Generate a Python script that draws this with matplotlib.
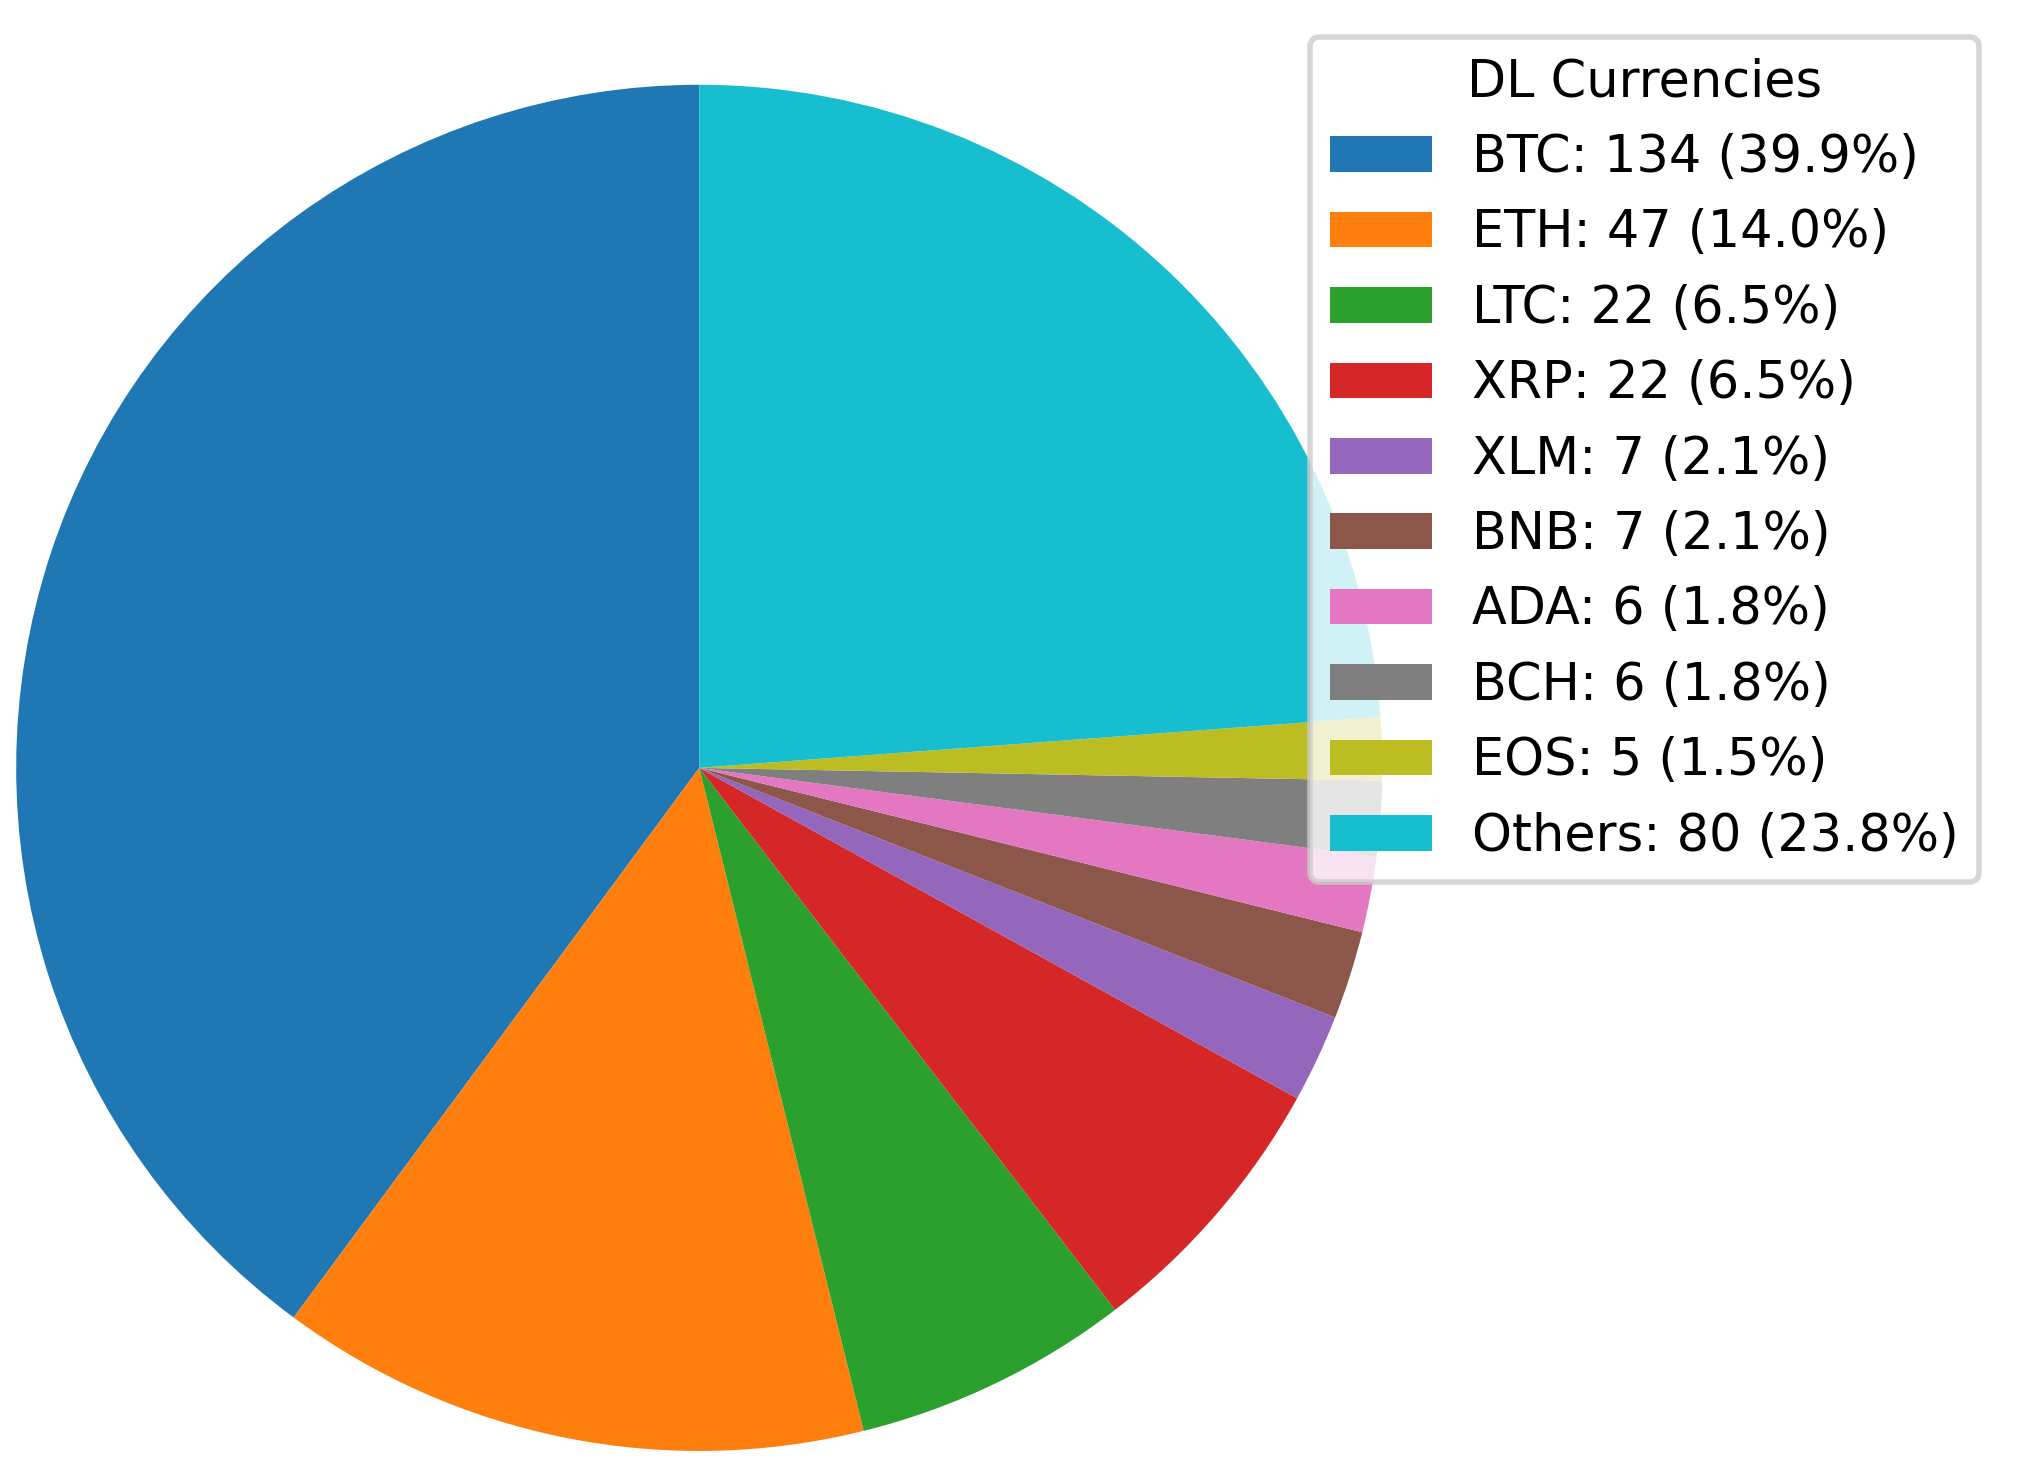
import matplotlib
matplotlib.use("Agg")
import matplotlib.pyplot as plt

labels = ["BTC", "ETH", "LTC", "XRP", "XLM", "BNB", "ADA", "BCH", "EOS", "Others"]
values = [134, 47, 22, 22, 7, 7, 6, 6, 5, 80]
colors = ["#1f77b4", "#ff7f0e", "#2ca02c", "#d62728", "#9467bd",
          "#8c564b", "#e377c2", "#7f7f7f", "#bcbd22", "#17becf"]

total = sum(values)
leg = [f"{l}: {v} ({v/total*100:.1f}%)" for l, v in zip(labels, values)]

fig = plt.figure(figsize=(10.105, 7.355), dpi=200)
ax = fig.add_axes([0.008, 0.012, 0.676, 0.932])
wedges, _ = ax.pie(values, colors=colors, startangle=90)
ax.set_xlim(-1, 1)
ax.set_ylim(-1, 1)
ax.set_aspect("equal")
lg = fig.legend(wedges, leg, title="DL Currencies", loc="upper right",
                bbox_to_anchor=(0.992, 0.992), fontsize=18.3, title_fontsize=18.3)
lg.get_frame().set_linewidth(2)
fig.savefig("out.png", dpi=200)
